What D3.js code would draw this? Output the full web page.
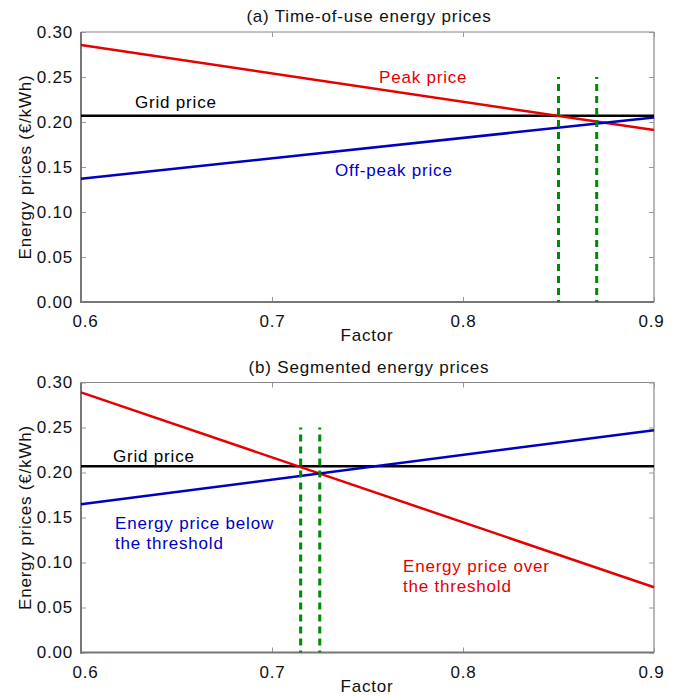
<!DOCTYPE html>
<html><head><meta charset="utf-8">
<script src="https://cdn.jsdelivr.net/npm/d3@7"></script>
<style>body{margin:0;background:#fff}text{font-family:"Liberation Sans",Arial,sans-serif}</style>
</head><body><svg id="c" width="680" height="697"></svg>
<script>
const factor = [0.6, 0.9];
const xTicks = [0.6, 0.7, 0.8, 0.9];
const yTicks = [0.00, 0.05, 0.10, 0.15, 0.20, 0.25, 0.30];
// Panel (a)
const peakPrice = [0.2855, 0.191];
const offPeakPrice = [0.137, 0.205];
const gridPriceA = [0.207, 0.207];
const markersA = [0.85, 0.87];
// Panel (b)
const overThreshold = [0.289, 0.0725];
const belowThreshold = [0.1647, 0.247];
const gridPriceB = [0.207, 0.207];
const markersB = [0.715, 0.725];
const markerTop = 0.25;

const svg = d3.select("#c");
const RED = "#e60000", BLUE = "#0000c0", GREEN = "#008a00";
const LS = "0.8px";

function panel(cfg) {
  const x = d3.scaleLinear().domain([0.6, 0.9]).range([81, 654]);
  const y = d3.scaleLinear().domain([0, 0.3]).range([cfg.bottom, cfg.top]);
  const g = svg.append("g");
  g.append("line").attr("x1",81).attr("x2",654).attr("y1",cfg.top).attr("y2",cfg.top).attr("stroke","#888").attr("stroke-width",1);
  g.append("line").attr("x1",654).attr("x2",654).attr("y1",cfg.top).attr("y2",cfg.bottom).attr("stroke","#888").attr("stroke-width",1.2);
  const bx = g.append("g").attr("transform",`translate(0,${cfg.bottom})`)
    .call(d3.axisBottom(x).tickValues(xTicks).tickSize(-5).tickPadding(10).tickFormat(d3.format(".1f")));
  const tx = g.append("g").attr("transform",`translate(0,${cfg.top})`)
    .call(d3.axisTop(x).tickValues(xTicks).tickSize(-5).tickFormat(""));
  const ly = g.append("g").attr("transform",`translate(81,0)`)
    .call(d3.axisLeft(y).tickValues(yTicks).tickSize(-5).tickPadding(8).tickFormat(d3.format(".2f")));
  const ry = g.append("g").attr("transform",`translate(654,0)`)
    .call(d3.axisRight(y).tickValues(yTicks).tickSize(-5).tickFormat(""));
  [bx,tx,ly,ry].forEach(a=>{a.selectAll(".tick line").attr("stroke","#999");a.select(".domain").remove();});
  [bx,ly].forEach(a=>a.selectAll(".tick text").attr("font-size",17).attr("fill","#111")
    .attr("font-family","Liberation Sans, Arial").attr("letter-spacing",LS));
  bx.selectAll(".tick text").attr("dy","0.9em")
    .attr("dx",(d,i)=> i===0 ? 4 : (i===xTicks.length-1 ? -3 : 0));
  g.append("line").attr("x1",81).attr("x2",81).attr("y1",cfg.top).attr("y2",cfg.bottom+1).attr("stroke","#777").attr("stroke-width",2);
  g.append("line").attr("x1",80).attr("x2",654).attr("y1",cfg.bottom).attr("y2",cfg.bottom).attr("stroke","#777").attr("stroke-width",2);

  const line = d3.line().x((d,i)=>x(factor[i])).y(d=>y(d));
  cfg.series.forEach(s=>{
    g.append("path").attr("d",line(s.v)).attr("fill","none").attr("stroke",s.c).attr("stroke-width",2.5);
  });
  cfg.markers.forEach(m=>{
    g.append("line").attr("x1",x(m)).attr("x2",x(m)).attr("y1",y(markerTop)).attr("y2",cfg.bottom)
      .attr("stroke",GREEN).attr("stroke-width",3).attr("stroke-dasharray","7,5").attr("stroke-dashoffset",5);
  });
  cfg.labels.forEach(l=>{
    const t = g.append("text").attr("x",l.x).attr("y",l.y).attr("fill",l.c).attr("font-size",17).attr("letter-spacing",LS);
    l.t.forEach((s,i)=>t.append("tspan").attr("x",l.x).attr("dy",i?20:0).text(s));
  });
  g.append("text").attr("x",369).attr("y",cfg.top-10).attr("text-anchor","middle").attr("font-size",17)
    .attr("letter-spacing",LS).attr("fill","#111").text(cfg.title);
  g.append("text").attr("x",367).attr("y",cfg.bottom+39).attr("text-anchor","middle").attr("font-size",17)
    .attr("letter-spacing",LS).attr("fill","#111").text("Factor");
  g.append("text").attr("transform",`translate(31,${(cfg.top+cfg.bottom)/2}) rotate(-90)`).attr("text-anchor","middle")
    .attr("font-size",17).attr("letter-spacing",LS).attr("fill","#111").text("Energy prices (€/kWh)");
}

panel({top:32, bottom:302, title:"(a) Time-of-use energy prices",
  series:[{v:gridPriceA,c:"#000"},{v:peakPrice,c:RED},{v:offPeakPrice,c:BLUE}],
  markers:markersA,
  labels:[{x:379,y:83,c:RED,t:["Peak price"]},{x:135,y:108,c:"#000",t:["Grid price"]},{x:335,y:176,c:BLUE,t:["Off-peak price"]}]});
panel({top:382.5, bottom:652.5, title:"(b) Segmented energy prices",
  series:[{v:gridPriceB,c:"#000"},{v:overThreshold,c:RED},{v:belowThreshold,c:BLUE}],
  markers:markersB,
  labels:[{x:113,y:462,c:"#000",t:["Grid price"]},{x:115,y:529,c:BLUE,t:["Energy price below","the threshold"]},{x:403,y:572,c:RED,t:["Energy price over","the threshold"]}]});
</script></body></html>
